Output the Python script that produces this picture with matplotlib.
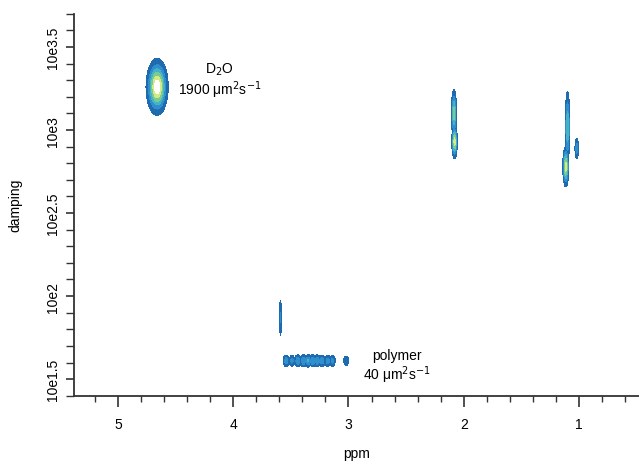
import matplotlib
matplotlib.use("Agg")
import matplotlib.pyplot as plt
from matplotlib.ticker import FixedLocator, FixedFormatter, MultipleLocator
import numpy as np

plt.rcParams['font.family'] = ['Liberation Sans', 'DejaVu Sans']

# peak positions: (ppm, log10 damping, width ppm, width log, intensity)
peak_ppm = [4.66, 2.085, 2.08, 1.10, 1.115, 1.02, 3.59]
peak_logd = [3.26, 3.10, 2.93, 3.02, 2.78, 2.89, 1.87]
peak_wx = [0.045, 0.012, 0.012, 0.011, 0.013, 0.010, 0.006]
peak_wy = [0.08, 0.075, 0.05, 0.115, 0.06, 0.04, 0.075]
peak_amp = [1.0, 0.62, 0.80, 0.55, 0.80, 0.33, 0.28]

# polymer envelope: row of small blobs
polymer_ppm = [3.54, 3.49, 3.44, 3.39, 3.35, 3.31, 3.27, 3.23, 3.18, 3.14, 3.02]
polymer_logd = 1.61
polymer_amp = [0.35, 0.3, 0.38, 0.4, 0.42, 0.4, 0.38, 0.36, 0.34, 0.3, 0.22]

ytick_vals = [1.5, 2.0, 2.5, 3.0, 3.5]
ytick_labels = ["10e1.5", "10e2", "10e2.5", "10e3", "10e3.5"]
xtick_vals = [5, 4, 3, 2, 1]

levels = [0.1, 0.25, 0.4, 0.55, 0.72, 0.88, 10]
colors = ['#1f6bb0', '#2e8fcc', '#45b2c9', '#78cd8c', '#d4ea86', '#ffffff']


def build_field(xx, yy):
    z = np.zeros_like(xx)
    for px, py, wx, wy, a in zip(peak_ppm, peak_logd, peak_wx, peak_wy, peak_amp):
        z = np.maximum(z, a * np.exp(-((xx - px) ** 2 / (2 * wx ** 2) + (yy - py) ** 2 / (2 * wy ** 2))))
    for px, a in zip(polymer_ppm, polymer_amp):
        z = np.maximum(z, a * np.exp(-((xx - px) ** 2 / (2 * 0.017 ** 2) + (yy - polymer_logd) ** 2 / (2 * 0.022 ** 2))))
    return z


fig = plt.figure(figsize=(6.39, 4.64), dpi=100)
ax = fig.add_axes([0.116, 0.145, 0.884, 0.823])

x = np.linspace(5.4, 0.4, 1400)
y = np.linspace(1.4, 3.7, 700)
xx, yy = np.meshgrid(x, y)
z = build_field(xx, yy)
ax.contourf(xx, yy, z, levels=levels, colors=colors)

ax.set_xlim(5.38, 0.48)
ax.set_ylim(1.4, 3.7)

for s in ['top', 'right']:
    ax.spines[s].set_visible(False)
for s in ['left', 'bottom']:
    ax.spines[s].set_linewidth(1.3)
    ax.spines[s].set_color('#333333')

ax.xaxis.set_major_locator(FixedLocator(xtick_vals))
ax.xaxis.set_minor_locator(MultipleLocator(0.2))
ax.yaxis.set_major_locator(FixedLocator(ytick_vals))
ax.yaxis.set_major_formatter(FixedFormatter(ytick_labels))
ax.yaxis.set_minor_locator(MultipleLocator(0.1))

ax.tick_params(axis='x', which='major', length=8, width=1.2, labelsize=10, pad=7, color='#333333')
ax.tick_params(axis='x', which='minor', length=4, width=1.0, color='#333333')
ax.tick_params(axis='y', which='major', length=6, width=1.2, labelsize=10, pad=4, color='#333333')
ax.tick_params(axis='y', which='minor', length=6, width=1.0, color='#333333')
for lab in ax.get_yticklabels():
    lab.set_rotation(90)
    lab.set_va('center')

ax.set_xlabel("ppm", fontsize=10, labelpad=11)
ax.set_ylabel("damping", fontsize=10, labelpad=17)

ax.text(4.12, 3.3, "D$_2$O\n1900 \u03bcm$^2$s$^{-1}$", ha='center', va='center',
        fontsize=10, linespacing=1.1)
ax.text(2.58, 1.575, "polymer\n40 \u03bcm$^2$s$^{-1}$", ha='center', va='center',
        fontsize=10, linespacing=1.1)

fig.savefig("out.png", dpi=100)
